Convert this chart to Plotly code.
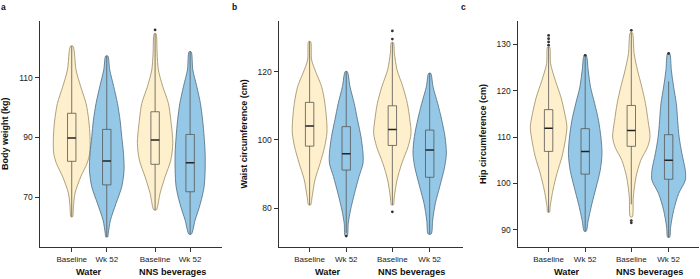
import plotly.graph_objects as go

# ---------------- data ----------------
CATEGORIES = ["Baseline", "Wk 52", "Baseline", "Wk 52"]
GROUPS = ["Water", "NNS beverages"]
Y_TITLES = ["Body weight (kg)", "Waist circumference (cm)", "Hip circumference (cm)"]
PANEL_LETTERS = ["a", "b", "c"]

# Panel a: body weight. Violin outlines as (value, half-width in px) knots
A_PROFILE_Y = [
    [63.4, 66.8, 71.3, 76.8, 81.3, 84.7, 90.2, 95.8, 101.4, 107.0, 112.6, 120.6],
    [56.7, 57.9, 62.3, 67.9, 73.5, 79.1, 84.7, 90.2, 95.8, 101.4, 107.0, 112.6, 117.3],
    [65.7, 71.3, 76.8, 82.4, 88.0, 95.8, 101.4, 107.0, 112.6, 118.2, 124.8],
    [57.6, 62.3, 67.9, 73.5, 79.1, 84.7, 90.2, 95.8, 101.4, 107.0, 112.6, 118.7],
]
A_PROFILE_W = [
    [0.8, 1.7, 3.3, 9.0, 15.3, 18.0, 18.3, 17.0, 14.3, 9.0, 4.3, 1.2],
    [1.0, 1.5, 3.7, 9.3, 15.0, 17.3, 16.7, 15.0, 13.3, 10.7, 7.0, 3.0, 1.0],
    [1.2, 5.0, 10.0, 15.7, 17.7, 15.7, 13.3, 7.7, 3.3, 2.0, 0.8],
    [1.2, 5.0, 10.3, 14.0, 15.0, 15.0, 14.0, 12.5, 10.3, 6.7, 2.7, 1.0],
]
A_Q1 = [82.0, 74.1, 81.0, 71.8]
A_MED = [89.8, 82.1, 89.1, 81.5]
A_Q3 = [98.1, 92.7, 98.6, 91.0]
A_LOW = [63.4, 56.7, 65.7, 57.6]
A_HIGH = [120.6, 117.3, 124.8, 118.7]
A_OUTLIERS = [[], [], [126.0], []]

# Panel b: waist circumference
B_PROFILE_Y = [
    [81.0, 83.4, 88.3, 93.2, 98.0, 102.0, 104.9, 110.7, 115.6, 119.5, 123.4, 128.8],
    [71.9, 75.6, 79.5, 84.4, 89.3, 93.2, 96.1, 101.0, 105.9, 110.7, 115.6, 120.0],
    [81.0, 83.4, 88.3, 93.2, 98.0, 102.0, 105.9, 110.7, 115.6, 120.5, 125.4, 128.5],
    [72.5, 76.6, 81.5, 86.3, 92.2, 96.1, 101.0, 105.9, 110.7, 115.6, 119.5],
]
B_PROFILE_W = [
    [1.0, 2.5, 5.3, 10.5, 15.0, 17.3, 17.2, 15.3, 12.0, 6.7, 2.0, 1.0],
    [1.0, 2.0, 4.3, 8.3, 12.8, 16.8, 16.8, 14.7, 11.3, 8.0, 3.8, 1.0],
    [1.0, 2.0, 4.7, 9.5, 15.7, 18.7, 17.5, 15.0, 10.5, 4.7, 2.0, 1.0],
    [1.5, 3.0, 5.7, 10.0, 15.0, 16.7, 15.3, 12.0, 8.0, 3.3, 1.0],
]
B_Q1 = [98.2, 91.2, 98.4, 89.1]
B_MED = [104.1, 96.0, 103.1, 97.1]
B_Q3 = [111.0, 103.9, 110.0, 102.9]
B_LOW = [81.0, 72.8, 81.0, 72.5]
B_HIGH = [128.8, 120.0, 128.5, 119.5]
B_OUTLIERS = [[], [71.9], [79.0, 129.5, 131.9], []]

# Panel c: hip circumference
C_PROFILE_Y = [
    [93.8, 94.9, 98.5, 102.1, 105.7, 109.3, 112.2, 115.0, 118.6, 122.2, 125.8, 129.4],
    [89.7, 92.0, 95.6, 99.2, 102.8, 106.4, 110.0, 113.6, 117.2, 120.8, 124.4, 127.6],
    [92.8, 97.1, 101.4, 105.0, 107.8, 110.0, 113.6, 117.2, 120.8, 124.4, 128.0, 132.5],
    [88.4, 90.6, 94.2, 97.8, 100.7, 102.8, 106.4, 110.0, 113.6, 117.2, 120.8, 124.4, 128.0],
]
C_PROFILE_W = [
    [1.0, 1.5, 4.3, 8.3, 13.3, 16.7, 18.3, 16.2, 12.3, 6.7, 2.0, 1.0],
    [1.0, 3.0, 6.7, 11.0, 15.0, 16.8, 15.7, 13.3, 9.5, 5.3, 3.0, 1.0],
    [1.0, 2.0, 4.7, 9.5, 16.2, 18.7, 16.7, 14.2, 10.5, 6.2, 2.8, 1.0],
    [1.0, 2.0, 5.0, 10.0, 16.7, 16.7, 13.3, 10.5, 9.0, 7.7, 5.0, 2.7, 1.0],
]
C_Q1 = [106.9, 102.0, 108.0, 100.9]
C_MED = [111.9, 106.9, 111.4, 105.0]
C_Q3 = [115.9, 111.8, 116.8, 110.5]
C_LOW = [93.8, 89.7, 95.5, 88.4]
C_HIGH = [129.4, 127.4, 132.5, 122.0]
C_OUTLIERS = [[129.8, 130.5, 131.2, 131.9], [127.6], [92.0, 91.5, 133.0], [128.0]]

Y_TICKS = [[70, 90, 110], [80, 100, 120], [90, 100, 110, 120, 130]]
Y_RANGES = [[53.3, 129.0], [68.7, 134.8], [86.3, 135.0]]

# ---------------- layout / style ----------------
W, H = 700, 279
FILL = ["#FEF0CC", "#95C8E6", "#FEF0CC", "#95C8E6"]
EDGE = ["#9A8A60", "#4E6B80", "#9A8A60", "#4E6B80"]
PANEL_X_PX = [(39.5, 222), (278.5, 463), (517.5, 699)]
PLOT_TOP, PLOT_BOTTOM = 21, 247
POSITIONS = [[0, 1, 2.38, 3.38], [0, 1, 2.26, 3.28], [0, 1, 2.26, 3.28]]
PX_PER_UNIT = [35.0, 36.6, 36.6]
X_RANGES = [[-0.92, 4.29], [-0.85, 4.19], [-0.85, 4.11]]
YTITLE_X_PX = [5, 243.5, 483]
LETTER_X_PX = [3, 234, 464]
BOX_HALF_PX = 4.2
FONT = "Liberation Sans, Arial, sans-serif"


def px_x(v):
    return v / W


def px_y(v):
    return (H - v) / H


panels = [
    (A_PROFILE_Y, A_PROFILE_W, A_Q1, A_MED, A_Q3, A_LOW, A_HIGH, A_OUTLIERS),
    (B_PROFILE_Y, B_PROFILE_W, B_Q1, B_MED, B_Q3, B_LOW, B_HIGH, B_OUTLIERS),
    (C_PROFILE_Y, C_PROFILE_W, C_Q1, C_MED, C_Q3, C_LOW, C_HIGH, C_OUTLIERS),
]

fig = go.Figure()
annotations = []
for p, (py, pw, q1, med, q3, low, high, outl) in enumerate(panels):
    xa = "x" if p == 0 else f"x{p+1}"
    ya = "y" if p == 0 else f"y{p+1}"
    scale = 1.0 / PX_PER_UNIT[p]
    pos = POSITIONS[p]
    hb = BOX_HALF_PX * scale
    for i in range(4):
        c = pos[i]
        ys = py[i]
        ws = pw[i]
        xs_out = [c + w * scale for w in ws] + [c - w * scale for w in reversed(ws)]
        ys_out = list(ys) + list(reversed(ys))
        xs_out.append(xs_out[0])
        ys_out.append(ys_out[0])
        fig.add_trace(go.Scatter(
            x=xs_out, y=ys_out, xaxis=xa, yaxis=ya, mode="lines",
            fill="toself", fillcolor=FILL[i],
            line=dict(color=EDGE[i], width=0.8, shape="spline", smoothing=0.8),
            hoverinfo="skip", showlegend=False))
    # whiskers and boxes from the statistics
    bx, by = [], []
    for i in range(4):
        c = pos[i]
        bx += [c, c, None, c, c, None]
        by += [low[i], q1[i], None, q3[i], high[i], None]
        bx += [c - hb, c + hb, c + hb, c - hb, c - hb, None]
        by += [q1[i], q1[i], q3[i], q3[i], q1[i], None]
    fig.add_trace(go.Scatter(x=bx, y=by, xaxis=xa, yaxis=ya, mode="lines",
                             line=dict(color="#555555", width=0.8),
                             hoverinfo="skip", showlegend=False))
    # medians
    mx, my = [], []
    for i in range(4):
        mx += [pos[i] - hb, pos[i] + hb, None]
        my += [med[i], med[i], None]
    fig.add_trace(go.Scatter(x=mx, y=my, xaxis=xa, yaxis=ya, mode="lines",
                             line=dict(color="#222222", width=1.5),
                             hoverinfo="skip", showlegend=False))
    # outliers
    ox, oy = [], []
    for i in range(4):
        for v in outl[i]:
            ox.append(pos[i])
            oy.append(v)
    if ox:
        fig.add_trace(go.Scatter(x=ox, y=oy, xaxis=xa, yaxis=ya, mode="markers",
                                 marker=dict(color="#333333", size=2.8),
                                 hoverinfo="skip", showlegend=False))

    x0, x1 = PANEL_X_PX[p]
    dom_x = [px_x(x0), px_x(x1)]
    dom_y = [px_y(PLOT_BOTTOM), px_y(PLOT_TOP)]
    xkey = "xaxis" if p == 0 else f"xaxis{p+1}"
    ykey = "yaxis" if p == 0 else f"yaxis{p+1}"
    fig.update_layout(**{
        xkey: dict(domain=dom_x, anchor=ya, range=X_RANGES[p], tickmode="array",
                   tickvals=pos, ticktext=CATEGORIES, showgrid=False, zeroline=False,
                   showline=True, linecolor="#333333", linewidth=1,
                   ticks="outside", ticklen=4, tickwidth=1, tickcolor="#333333",
                   tickfont=dict(family=FONT, size=8, color="#222222")),
        ykey: dict(domain=dom_y, anchor=xa, range=Y_RANGES[p], tickmode="array",
                   tickvals=Y_TICKS[p], showgrid=False, zeroline=False,
                   showline=True, linecolor="#333333", linewidth=1,
                   ticks="outside", ticklen=4, tickwidth=1, tickcolor="#333333",
                   tickfont=dict(family=FONT, size=8.5, color="#222222")),
    })
    # group labels
    for g in range(2):
        annotations.append(dict(
            text=f"<b>{GROUPS[g]}</b>", xref=xa, yref="paper",
            x=(pos[2 * g] + pos[2 * g + 1]) / 2, y=px_y(272),
            showarrow=False, xanchor="center", yanchor="middle",
            font=dict(family=FONT, size=9.2, color="#111111")))
    # y title
    annotations.append(dict(
        text=f"<b>{Y_TITLES[p]}</b>", xref="paper", yref="paper",
        x=px_x(YTITLE_X_PX[p]), y=px_y(134), textangle=-90,
        showarrow=False, xanchor="center", yanchor="middle",
        font=dict(family=FONT, size=9, color="#111111")))
    # panel letter
    annotations.append(dict(
        text=f"<b>{PANEL_LETTERS[p]}</b>", xref="paper", yref="paper",
        x=px_x(LETTER_X_PX[p]), y=px_y(7), showarrow=False,
        xanchor="center", yanchor="middle",
        font=dict(family=FONT, size=8.5, color="#111111")))

fig.update_layout(width=W, height=H, margin=dict(l=0, r=0, t=0, b=0),
                  paper_bgcolor="white", plot_bgcolor="white",
                  annotations=annotations, showlegend=False)

# remove the page's default body margin so the figure sits at the window origin
fig.write_html("out.html",
               config={"displayModeBar": False},
               post_script="document.body.style.margin='0';document.body.style.overflow='hidden';")
